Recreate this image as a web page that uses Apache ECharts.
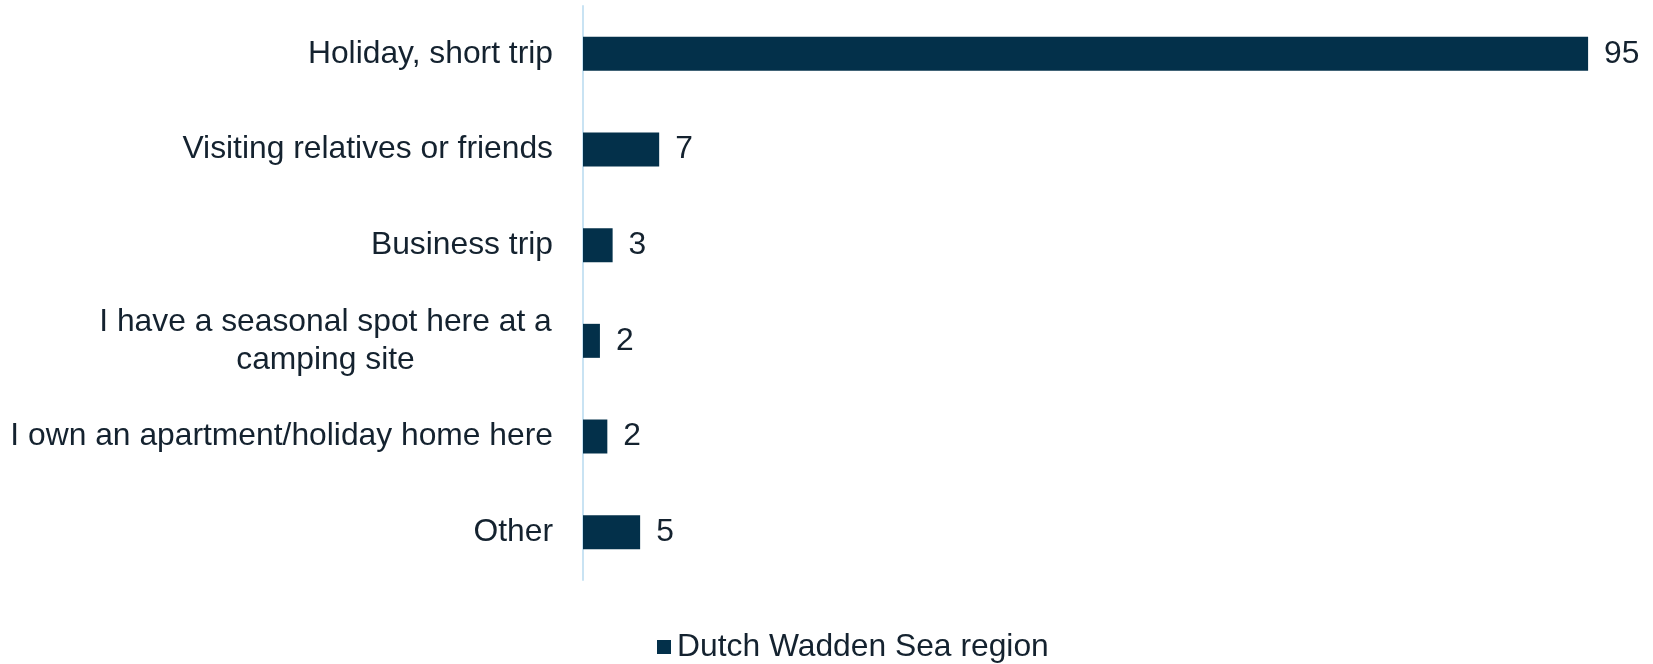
<!DOCTYPE html>
<html>
<head>
<meta charset="utf-8">
<script src="https://cdn.jsdelivr.net/npm/echarts@6/dist/echarts.min.js"></script>
<style>
  html, body { margin: 0; padding: 0; background: #ffffff; }
  #chart { width: 1653px; height: 664px; }
</style>
</head>
<body>
<div id="chart"></div>
<script>
// ---- data ----
const categories = [
  'Holiday, short trip',
  'Visiting relatives or friends',
  'Business trip',
  'I have a seasonal spot here at a\ncamping site',
  'I own an apartment/holiday home here',
  'Other'
];
const seriesName = 'Dutch Wadden Sea region';
const values = [95, 7.2, 2.8, 1.6, 2.3, 5.4];

// ---- styles ----
const FONT = '"Liberation Sans", Arial, sans-serif';
const FS = 31.8;
const TXT = '#14222f';
const BAR = '#03304a';

// measure widest line of a multi-line label to centre its lines
const ctx = document.createElement('canvas').getContext('2d');
ctx.font = FS + 'px ' + FONT;
function lineWidth(s) { return Math.ceil(ctx.measureText(s).width) + 2; }

const chart = echarts.init(document.getElementById('chart'), null, { renderer: 'canvas' });
chart.setOption({
  animation: false,
  backgroundColor: '#ffffff',
  grid: { left: 583, right: 12, top: 6, height: 574, containLabel: false },
  legend: {
    data: [seriesName],
    left: 652,
    top: 626,
    icon: 'rect',
    itemWidth: 14,
    itemHeight: 14,
    textStyle: { fontFamily: FONT, fontSize: FS, color: TXT, padding: [0, 0, 0, 1] }
  },
  xAxis: {
    type: 'value',
    min: 0,
    max: 100,
    show: false
  },
  yAxis: {
    type: 'category',
    inverse: true,
    data: categories,
    axisLine: { show: true, lineStyle: { color: '#c9e3f3', width: 2 } },
    axisTick: { show: false },
    splitLine: { show: false },
    axisLabel: {
      margin: 30,
      fontFamily: FONT,
      fontSize: FS,
      color: TXT,
      lineHeight: 38,
      formatter: function (v) {
        if (v.indexOf('\n') < 0) return v;
        return v.split('\n').map(function (l) { return '{c|' + l + '}'; }).join('\n');
      },
      rich: {
        c: {
          fontFamily: FONT,
          fontSize: FS,
          color: TXT,
          lineHeight: 38,
          width: lineWidth(categories[3].split('\n')[0]),
          align: 'center'
        }
      }
    }
  },
  series: [{
    name: seriesName,
    type: 'bar',
    data: values,
    barWidth: 34,
    itemStyle: { color: BAR },
    label: {
      show: true,
      position: 'right',
      distance: 16,
      fontFamily: FONT,
      fontSize: FS,
      color: TXT,
      formatter: function (p) { return String(Math.round(p.value)); }
    }
  }]
});
</script>
</body>
</html>
